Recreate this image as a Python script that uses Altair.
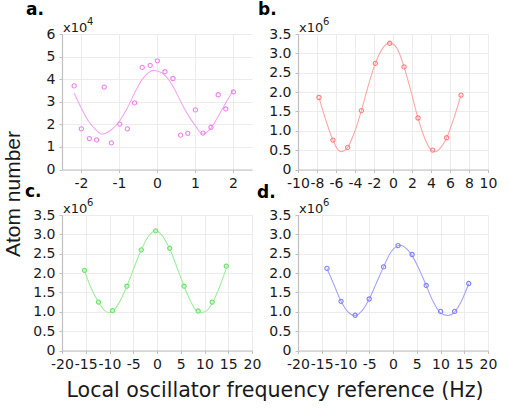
import altair as alt
import pandas as pd

# ---- panel a: measured atom number (x10^4) vs detuning (Hz)
a_x = [-2.18, -1.99, -1.78, -1.59, -1.39, -1.20, -0.98, -0.78, -0.59, -0.39, -0.18,
       0.01, 0.21, 0.42, 0.62, 0.81, 1.01, 1.21, 1.42, 1.61, 1.81, 2.01]
a_y = [3.70, 1.80, 1.37, 1.31, 3.65, 1.18, 2.01, 1.80, 2.95, 4.52, 4.61,
       4.81, 4.33, 4.03, 1.52, 1.60, 2.64, 1.61, 1.87, 3.31, 2.68, 3.44]
a_fit_x = [-2.18, -1.78, -1.59, -1.46, -1.20, -0.98, -0.78, -0.59, -0.39, -0.19, -0.10,
           0.01, 0.21, 0.42, 0.62, 0.81, 1.01, 1.20, 1.42, 1.61, 1.81, 2.01]
a_fit_y = [3.39, 2.09, 1.73, 1.57, 1.76, 2.16, 2.72, 3.39, 3.99, 4.33, 4.39,
           4.36, 4.17, 3.69, 3.02, 2.43, 1.94, 1.57, 1.83, 2.35, 2.95, 3.51]

# ---- panel b (x10^6)
b_x = [-7.79, -6.32, -4.77, -3.33, -1.86, -0.35, 1.16, 2.63, 4.18, 5.65, 7.16]
b_y = [1.86, 0.76, 0.57, 1.52, 2.74, 3.26, 2.65, 1.33, 0.50, 0.82, 1.92]
b_fit_x = [-7.79, -7.0, -6.32, -5.9, -5.45, -4.77, -4.1, -3.33, -2.6, -1.86, -1.1, -0.35,
           0.4, 1.16, 1.9, 2.63, 3.4, 4.0, 4.45, 5.0, 5.65, 6.4, 7.16]
b_fit_y = [1.86, 1.22, 0.76, 0.55, 0.46, 0.57, 0.93, 1.52, 2.17, 2.74, 3.13, 3.27,
           3.14, 2.65, 2.01, 1.33, 0.77, 0.51, 0.46, 0.56, 0.82, 1.32, 1.92]

# ---- panel c (x10^6)
c_x = [-15.28, -12.32, -9.37, -6.34, -3.31, -0.28, 2.68, 5.70, 8.66, 11.62, 14.58]
c_y = [2.07, 1.25, 1.03, 1.66, 2.60, 3.09, 2.64, 1.66, 1.02, 1.25, 2.18]
c_fit_x = [-15.28, -13.9, -12.32, -11.2, -10.2, -9.37, -7.9, -6.34, -4.8, -3.31, -1.8, -0.28,
           1.2, 2.68, 4.2, 5.70, 7.2, 8.3, 9.37, 10.5, 11.62, 13.1, 14.58]
c_fit_y = [2.07, 1.62, 1.25, 1.05, 0.98, 1.01, 1.25, 1.66, 2.15, 2.60, 2.95, 3.09,
           2.95, 2.62, 2.15, 1.66, 1.24, 1.03, 0.98, 1.03, 1.22, 1.62, 2.12]

# ---- panel d (x10^6)
d_x = [-13.9, -10.94, -7.97, -5.01, -1.98, 1.06, 4.02, 6.99, 10.02, 12.98, 15.95]
d_y = [2.12, 1.27, 0.91, 1.33, 2.16, 2.71, 2.48, 1.68, 1.01, 1.01, 1.73]
d_fit_x = [-13.9, -12.4, -10.94, -9.5, -7.97, -6.5, -5.01, -3.5, -1.98, -0.5, 1.55,
           3.0, 4.02, 5.5, 6.99, 8.5, 10.02, 11.57, 12.98, 14.5, 15.95]
d_fit_y = [2.12, 1.69, 1.27, 1.00, 0.905, 1.03, 1.33, 1.74, 2.16, 2.53, 2.72,
           2.61, 2.45, 2.10, 1.68, 1.25, 0.97, 0.905, 1.00, 1.30, 1.73]

TICK_FONT = "DejaVu Sans"
GRID = "#ececec"
DOMAIN = "#c0c0c0"
LABEL = "#1a1a1a"
W, H = 190, 135.5


def panel(xs, ys, fx, fy, xdom, xticks, ydom, yticks, line_col, pt_col, pt_fill,
          letter, letter_dx, letter_dy, exponent, extra=None):
    pts = pd.DataFrame({"x": xs, "y": ys})
    fit = pd.DataFrame({"x": fx, "y": fy})
    ylab = ("'' + datum.value" if ydom[1] > 4
            else "datum.value == 0 ? '0' : format(datum.value, '.1f')")
    xenc = alt.X("x:Q", scale=alt.Scale(domain=xdom, nice=False, zero=False),
                 axis=alt.Axis(values=xticks, tickCount=len(xticks), title=None,
                               labelExpr="'' + datum.value",
                               labelFlush=False, labelOverlap=False))
    yenc = alt.Y("y:Q", scale=alt.Scale(domain=ydom, nice=False),
                 axis=alt.Axis(values=yticks, tickCount=len(yticks), title=None,
                               labelExpr=ylab,
                               labelFlush=False, labelOverlap=False))
    line = alt.Chart(fit).mark_line(color=line_col, strokeWidth=1.1,
                                    interpolate="monotone").encode(x=xenc, y=yenc)
    dots = alt.Chart(pts).mark_point(shape="circle", size=18, strokeWidth=1.1,
                                     color=pt_col, filled=False,
                                     fill=pt_fill if pt_fill else "#ffffff",
                                     fillOpacity=1 if pt_fill else 0
                                     ).encode(x="x:Q", y="y:Q")
    one = pd.DataFrame({"t": [0]})
    tag = alt.Chart(one).mark_text(text=letter, font="DejaVu Sans", fontWeight="bold",
                                   fontSize=17, align="left", baseline="alphabetic",
                                   color="#000000").encode(
        x=alt.value(letter_dx), y=alt.value(letter_dy))
    base = alt.Chart(one).mark_text(text="x10", font=TICK_FONT, fontSize=13,
                                    align="left", baseline="alphabetic",
                                    color=LABEL).encode(x=alt.value(1), y=alt.value(-2))
    sup = alt.Chart(one).mark_text(text=exponent, font=TICK_FONT, fontSize=10,
                                   align="left", baseline="alphabetic",
                                   color=LABEL).encode(x=alt.value(25), y=alt.value(-9))
    layers = [line, dots, tag, base, sup] + (extra or [])
    return alt.layer(*layers).properties(width=W, height=H)


one_row = pd.DataFrame({"t": [0]})
y_title = alt.Chart(one_row).mark_text(
    text="Atom number", font="Liberation Sans", fontSize=21, angle=270,
    align="center", baseline="alphabetic", color="#1a1a1a"
).encode(x=alt.value(-42), y=alt.value(160))
x_title = alt.Chart(one_row).mark_text(
    text="Local oscillator frequency reference (Hz)", font="DejaVu Sans", fontSize=20.6,
    align="center", baseline="alphabetic", color="#1a1a1a"
).encode(x=alt.value(213), y=alt.value(182))

pa = panel(a_x, a_y, a_fit_x, a_fit_y, [-2.5, 2.5], [-2, -1, 0, 1, 2], [0, 6],
           [0, 1, 2, 3, 4, 5, 6], "#f3a6f3", "#ee82ee", None,
           "a.", -36, -19, "4", extra=[y_title])
pb = panel(b_x, b_y, b_fit_x, b_fit_y, [-10, 10], list(range(-10, 11, 2)), [0, 3.5],
           [0, 0.5, 1, 1.5, 2, 2.5, 3, 3.5], "#ffa8a8", "#ff7f7f", None,
           "b.", -40, -19, "6")
pc = panel(c_x, c_y, c_fit_x, c_fit_y, [-20, 20], list(range(-20, 21, 5)), [0, 3.5],
           [0, 0.5, 1, 1.5, 2, 2.5, 3, 3.5], "#9cef9c", "#74e074", "#c8f7c8",
           "c.", -37, -18, "6", extra=[x_title])
pd_ = panel(d_x, d_y, d_fit_x, d_fit_y, [-20, 20], list(range(-20, 21, 5)), [0, 3.5],
            [0, 0.5, 1, 1.5, 2, 2.5, 3, 3.5], "#a4a4ff", "#7f7fff", None,
            "d.", -41, -17, "6")

chart = alt.concat(pa, pb, pc, pd_, columns=2, spacing={"row": 45, "column": 46},
                   bounds="flush").properties(
    padding={"left": 3, "top": 1, "right": 0, "bottom": 0}
).configure_view(stroke=None).configure_axis(
    grid=True, gridColor=GRID, gridWidth=1,
    domainColor=DOMAIN, domainWidth=1.2,
    tickColor=DOMAIN, tickSize=3, tickWidth=1,
    labelFont=TICK_FONT, labelFontSize=14, labelColor=LABEL, labelPadding=4,
).configure_axisX(labelAngle=0)

chart.save("out.html", embed_options={"renderer": "svg", "actions": False})
